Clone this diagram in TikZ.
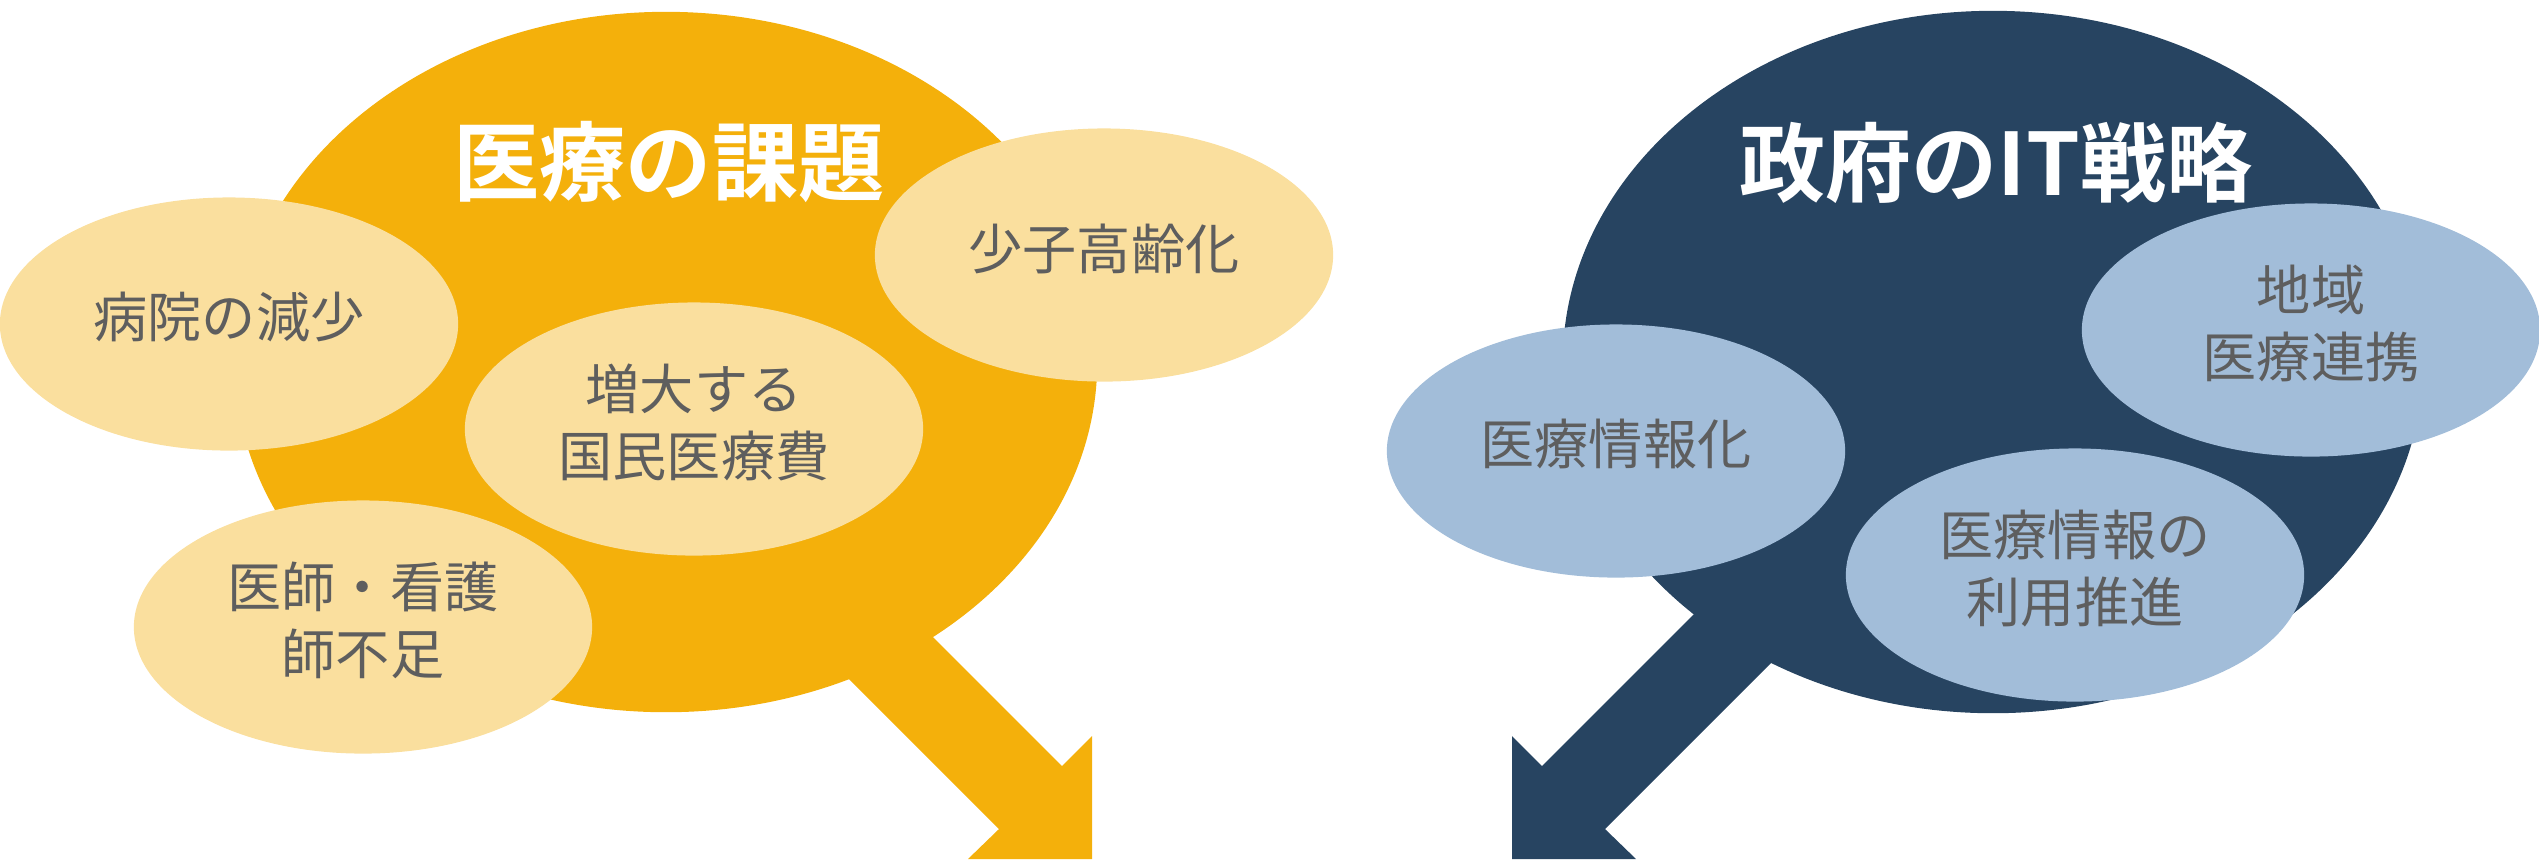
\documentclass[tikz,border=0pt]{standalone}
\usepackage{fontspec}
\setmainfont{Noto Sans CJK JP}
\newfontfamily\titlefont{Noto Sans CJK JP Bold}
\usetikzlibrary{shapes.geometric}
\definecolor{cOrange}{HTML}{F4B00B}
\definecolor{cYellow}{HTML}{FADF9E}
\definecolor{cNavy}{HTML}{274461}
\definecolor{cBlue}{HTML}{A2BDD9}
\definecolor{cText}{HTML}{5E5E5E}
\tikzset{
  bigblob/.style={ellipse, inner sep=0pt, minimum width=8.62cm, minimum height=7.0cm},
  smallblob/.style={ellipse, inner sep=0pt, minimum width=4.58cm, minimum height=2.53cm,
    text=cText, align=center, font=\fontsize{15.4pt}{18.8pt}\selectfont},
  titletext/.style={text=white, font=\titlefont\fontsize{24.5pt}{28pt}\selectfont, inner sep=0pt}
}
\begin{document}
\begin{tikzpicture}[x=0.01cm, y=-0.01cm]
\useasboundingbox (0,0) rectangle (2539,859);
% left arrow
\coordinate (lTip) at (1092,859);
\fill[cOrange] (700,404) -- (1062,766) -- (1092,736) -- (lTip) -- (968,859) -- (999,829) -- (637,467) -- cycle;
% right arrow
\coordinate (rTip) at (1512,859);
\fill[cNavy] (1904,404) -- (1542,766) -- (1512,736) -- (rTip) -- (1636,859) -- (1605,829) -- (1967,467) -- cycle;
% big ellipses
\node[bigblob, fill=cOrange] (lbig) at (666,362) {};
\node[bigblob, fill=cNavy, minimum width=8.6cm, minimum height=7.02cm] (rbig) at (1993,362) {};
\node[titletext] (ltitle) at (669,162) {医療の課題};
\node[titletext] (rtitle) at (1996,163) {政府のIT戦略};
% small ellipses left
\node[smallblob, fill=cYellow] (hosp) at (229,324) {\raisebox{5pt}{病院の減少}};
\node[smallblob, fill=cYellow] (aging) at (1104,255) {\raisebox{5pt}{少子高齢化}};
\node[smallblob, fill=cYellow] (cost) at (694,429) {\raisebox{5pt}{\shortstack{増大する\\[2pt]国民医療費}}};
\node[smallblob, fill=cYellow] (staff) at (363,627) {\raisebox{5pt}{\shortstack{医師・看護\\[2pt]師不足}}};
% small ellipses right
\node[smallblob, fill=cBlue] (info) at (1616,451) {\raisebox{5pt}{医療情報化}};
\node[smallblob, fill=cBlue] (region) at (2311,330) {\raisebox{5pt}{\shortstack{地域\\[2pt]医療連携}}};
\node[smallblob, fill=cBlue] (use) at (2075,575) {\raisebox{5pt}{\shortstack{医療情報の\\[2pt]利用推進}}};
\end{tikzpicture}
\end{document}
